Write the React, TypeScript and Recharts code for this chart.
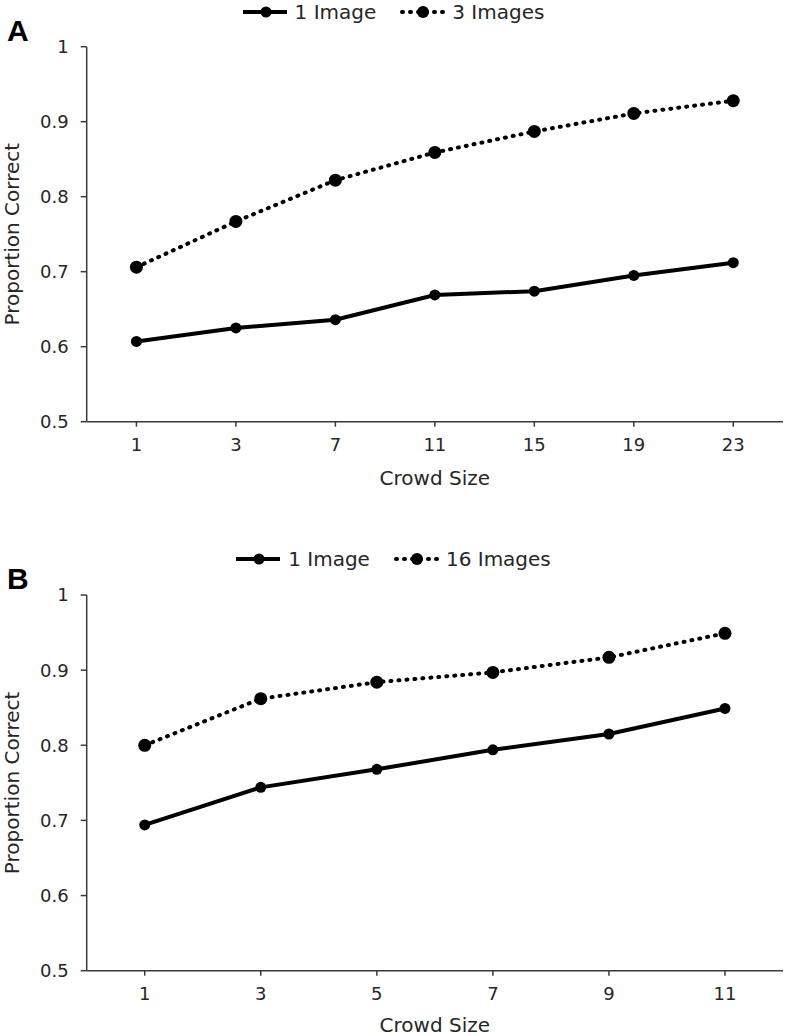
import React from "react";
import { LineChart, Line, XAxis, YAxis, Legend } from "recharts";

// ---- Data ----
const crowdSizesA = ["1", "3", "7", "11", "15", "19", "23"];
const oneImageA = [0.607, 0.625, 0.636, 0.669, 0.674, 0.695, 0.712];
const threeImagesA = [0.706, 0.767, 0.822, 0.859, 0.887, 0.911, 0.928];

const crowdSizesB = ["1", "3", "5", "7", "9", "11"];
const oneImageB = [0.694, 0.744, 0.768, 0.794, 0.815, 0.849];
const sixteenImagesB = [0.8, 0.862, 0.884, 0.897, 0.917, 0.949];

const yTicks = [0.5, 0.6, 0.7, 0.8, 0.9, 1];

const dataA = crowdSizesA.map((c, i) => ({ crowd: c, a: oneImageA[i], b: threeImagesA[i] }));
const dataB = crowdSizesB.map((c, i) => ({ crowd: c, a: oneImageB[i], b: sixteenImagesB[i] }));

const FONT = '"DejaVu Sans", Verdana, sans-serif';
const INK = "#000";
const AXIS = "#3a3a3a";
const TEXT = "#262626";
const PLOT_W = 787 - 86.7 - 4;

const LegendSample = ({ dotted }: { dotted: boolean }) => (
  <svg width={46} height={20} style={{ display: "block" }}>
    <line
      x1={dotted ? 2 : 0}
      x2={44}
      y1={10}
      y2={10}
      stroke={INK}
      strokeWidth={4}
      strokeDasharray={dotted ? "1 7" : undefined}
      strokeLinecap={dotted ? "round" : "butt"}
    />
    <circle cx={23} cy={10} r={dotted ? 6 : 5.5} fill={INK} />
  </svg>
);

const makeLegend = (names: string[]) => () => (
  <div
    style={{
      display: "flex",
      justifyContent: "center",
      alignItems: "center",
      fontFamily: FONT,
      fontSize: 20,
      color: TEXT,
      gap: 24,
      width: 787,
    }}
  >
    {names.map((n, i) => (
      <div key={n} style={{ display: "flex", alignItems: "center" }}>
        <LegendSample dotted={i === 1} />
        <span style={{ marginLeft: 6, lineHeight: "24px" }}>{n}</span>
      </div>
    ))}
  </div>
);

type PanelProps = {
  data: any[];
  names: string[];
  height: number;
  margin: { top: number; right: number; bottom: number; left: number };
  legendTop: number;
  titleOffset: number;
};

const Panel = ({ data, names, height, margin, legendTop, titleOffset }: PanelProps) => {
  const pad = PLOT_W / data.length / 2;
  return (
    <LineChart width={787} height={height} data={data} margin={margin}>
      <XAxis
        dataKey="crowd"
        stroke={AXIS}
        strokeWidth={1.5}
        tickSize={5}
        tickMargin={12}
        height={70}
        padding={{ left: pad, right: pad }}
        tick={{ fill: TEXT, fontSize: 18, fontFamily: FONT }}
        interval={0}
        label={{
          value: "Crowd Size",
          position: "insideBottom",
          offset: titleOffset,
          fill: TEXT,
          fontSize: 20,
          fontFamily: FONT,
        }}
      />
      <YAxis
        domain={[0.5, 1]}
        ticks={yTicks}
        stroke={AXIS}
        strokeWidth={1.5}
        tickSize={6}
        tickMargin={12}
        width={86.7}
        tick={{ fill: TEXT, fontSize: 18, fontFamily: FONT }}
        allowDataOverflow
        label={{
          value: "Proportion Correct",
          angle: -90,
          position: "insideLeft",
          offset: 12,
          style: { textAnchor: "middle" },
          fill: TEXT,
          fontSize: 20,
          fontFamily: FONT,
        }}
      />
      <Legend
        verticalAlign="middle"
        content={makeLegend(names)}
        wrapperStyle={{ top: legendTop, left: 0, width: 787 }}
      />
      <Line
        dataKey="a"
        name={names[0]}
        stroke={INK}
        strokeWidth={4}
        dot={{ r: 5.5, fill: INK, stroke: INK, strokeWidth: 0 }}
        isAnimationActive={false}
      />
      <Line
        dataKey="b"
        name={names[1]}
        stroke={INK}
        strokeWidth={4}
        strokeDasharray="1 7"
        strokeLinecap="round"
        dot={{ r: 6.5, fill: INK, stroke: INK, strokeWidth: 0, strokeDasharray: "" }}
        isAnimationActive={false}
      />
    </LineChart>
  );
};

const PanelLetter = ({ letter, top }: { letter: string; top: number }) => (
  <div
    style={{
      position: "absolute",
      left: 7,
      top,
      fontFamily: '"Liberation Sans", Arial, sans-serif',
      fontWeight: "bold",
      fontSize: 30,
      lineHeight: "30px",
      color: "#000",
    }}
  >
    {letter}
  </div>
);

export default function App() {
  return (
    <div
      style={{
        position: "absolute",
        left: 0,
        top: 0,
        width: 787,
        height: 1036,
        background: "#fff",
        overflow: "hidden",
      }}
    >
      <div style={{ position: "absolute", left: 0, top: 0 }}>
        <Panel
          data={dataA}
          names={["1 Image", "3 Images"]}
          height={500}
          margin={{ top: 46.7, right: 4, bottom: 8.3, left: 0 }}
          legendTop={0}
          titleOffset={7}
        />
      </div>
      <div style={{ position: "absolute", left: 0, top: 520 }}>
        <Panel
          data={dataB}
          names={["1 Image", "16 Images"]}
          height={516}
          margin={{ top: 75, right: 4, bottom: -4.7, left: 0 }}
          legendTop={27}
          titleOffset={9}
        />
      </div>
      <PanelLetter letter="A" top={16} />
      <PanelLetter letter="B" top={564} />
    </div>
  );
}
